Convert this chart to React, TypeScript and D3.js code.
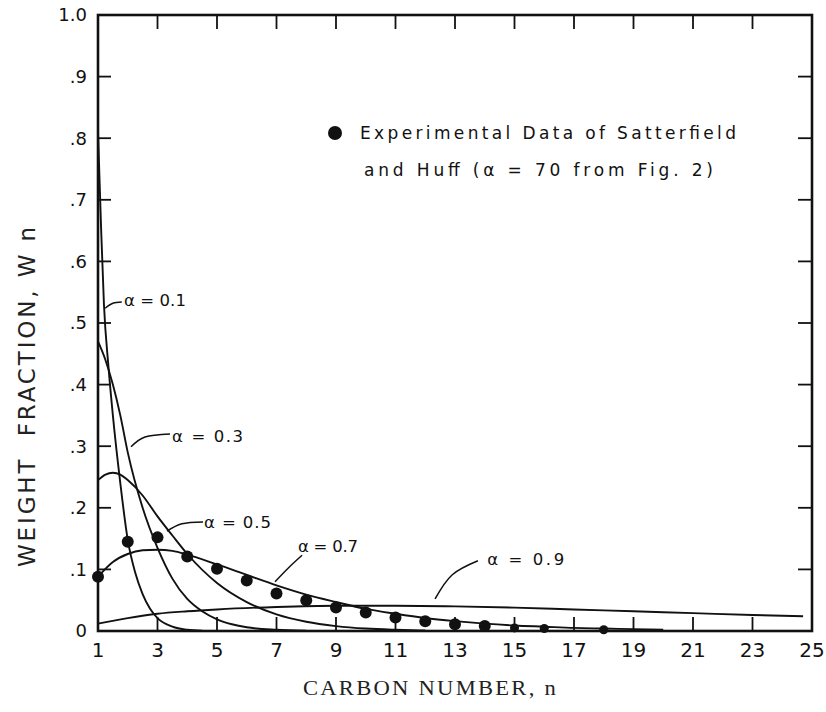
import React from 'react';
import * as d3 from 'd3';

// carbon number axis
const nTicks = [1, 3, 5, 7, 9, 11, 13, 15, 17, 19, 21, 23, 25];
const wTicks = [0, 0.1, 0.2, 0.3, 0.4, 0.5, 0.6, 0.7, 0.8, 0.9, 1.0];
const wTickLabels = ['0', '.1', '.2', '.3', '.4', '.5', '.6', '.7', '.8', '.9', '1.0'];

// curves: [n, weight fraction]
const alpha01 = [[1, 0.81], [1.1, 0.66], [1.2, 0.53], [1.35, 0.43], [1.5, 0.35], [1.75, 0.24], [2, 0.148], [2.25, 0.095], [2.5, 0.06], [2.75, 0.036], [3, 0.021], [3.5, 0.007], [4, 0.002], [4.5, 0.0005]];
const alpha03 = [[1, 0.47], [1.25, 0.44], [1.5, 0.4], [1.75, 0.35], [2, 0.29], [2.5, 0.2], [3, 0.135], [3.5, 0.085], [4, 0.052], [4.5, 0.032], [5, 0.019], [5.5, 0.011], [6, 0.006], [7, 0.002], [8, 0.0005]];
const alpha05 = [[1, 0.245], [1.25, 0.254], [1.5, 0.257], [1.75, 0.254], [2, 0.245], [2.5, 0.22], [3, 0.186], [3.5, 0.155], [4, 0.125], [5, 0.078], [6, 0.047], [7, 0.027], [8, 0.015], [9, 0.008], [10, 0.004], [11, 0.002], [12, 0.0008]];
const alpha07 = [[1, 0.088], [1.5, 0.112], [2, 0.125], [2.5, 0.131], [3, 0.132], [3.5, 0.13], [4, 0.124], [5, 0.108], [6, 0.091], [7, 0.074], [8, 0.059], [9, 0.047], [10, 0.036], [11, 0.028], [12, 0.021], [13, 0.016], [14, 0.012], [15, 0.009], [16, 0.007], [17, 0.005], [18, 0.004], [19, 0.003], [20, 0.002]];
const alpha09 = [[1, 0.012], [2, 0.021], [3, 0.028], [4, 0.032], [5, 0.035], [7, 0.039], [9, 0.041], [11, 0.041], [13, 0.04], [15, 0.038], [17, 0.035], [19, 0.032], [21, 0.029], [23, 0.026], [24.7, 0.024]];

// experimental data of Satterfield and Huff
const expN = [1, 2, 3, 4, 5, 6, 7, 8, 9, 10, 11, 12, 13, 14, 15, 16, 18];
const expW = [0.088, 0.145, 0.152, 0.121, 0.101, 0.082, 0.061, 0.05, 0.038, 0.03, 0.022, 0.016, 0.011, 0.008, 0.005, 0.004, 0.002];

// curve labels: text, leader line points and label anchor, in data units
const curveLabels = ['α = 0.1', 'α = 0.3', 'α = 0.5', 'α = 0.7', 'α = 0.9'];
const labelAnchors = [[1.87, 0.537], [3.49, 0.317], [4.56, 0.177], [7.72, 0.138], [14.08, 0.117]];
const labelWidths = [62, 71, 67, 60, 77];
const leaders = [
  [[1.24, 0.524], [1.5, 0.532], [1.8, 0.534]],
  [[2.11, 0.299], [2.58, 0.315], [3.42, 0.32]],
  [[3.32, 0.162], [3.82, 0.174], [4.53, 0.177]],
  [[6.95, 0.08], [7.39, 0.102], [7.86, 0.123]],
  [[12.33, 0.052], [12.9, 0.091], [13.77, 0.114]],
];

const W = 826;
const H = 712;

export default function App() {
  const x = d3.scaleLinear().domain([1, 25]).range([98, 812]);
  const y = d3.scaleLinear().domain([0, 1]).range([631, 15]);

  const curve = d3.line<number[]>().x(d => x(d[0])).y(d => y(d[1])).curve(d3.curveMonotoneX);
  const leader = d3.line<number[]>().x(d => x(d[0])).y(d => y(d[1])).curve(d3.curveNatural);

  const sans = "'DejaVu Sans', Verdana, sans-serif";
  const serif = "'Liberation Serif', 'Times New Roman', serif";

  return (
    <svg width={W} height={H} style={{ position: 'absolute', left: 0, top: 0, background: '#fff' }}>
      <rect x={0} y={0} width={W} height={H} fill="#fff" />

      {/* frame */}
      <rect x={x(1)} y={y(1)} width={x(25) - x(1)} height={y(0) - y(1)} fill="none" stroke="#111" strokeWidth={2.6} />

      {/* inward ticks, top and bottom */}
      {nTicks.slice(1, -1).map(n => (
        <g key={'nt' + n}>
          <line x1={x(n)} x2={x(n)} y1={y(1)} y2={y(1) + 14} stroke="#111" strokeWidth={1.8} />
          <line x1={x(n)} x2={x(n)} y1={y(0)} y2={y(0) - 14} stroke="#111" strokeWidth={1.8} />
        </g>
      ))}
      {/* inward ticks, left and right */}
      {wTicks.slice(1, -1).map(w => (
        <g key={'wt' + w}>
          <line x1={x(1)} x2={x(1) + 13} y1={y(w)} y2={y(w)} stroke="#111" strokeWidth={1.8} />
          <line x1={x(25)} x2={x(25) - 14} y1={y(w)} y2={y(w)} stroke="#111" strokeWidth={1.8} />
        </g>
      ))}

      {/* tick labels */}
      {wTicks.map((w, i) => (
        <text key={'wl' + w} x={87} y={y(w)} dy="0.36em" textAnchor="end" fontFamily={sans} fontSize={18} fill="#111">
          {wTickLabels[i]}
        </text>
      ))}
      {nTicks.map(n => (
        <text key={'nl' + n} x={x(n)} y={657} textAnchor="middle" fontFamily={sans} fontSize={20} fill="#111">
          {n}
        </text>
      ))}

      {/* axis titles */}
      <text x={303} y={695} textLength={255} lengthAdjust="spacingAndGlyphs" fontFamily={serif} fontSize={20} fill="#222"
        style={{ letterSpacing: '2px' }}>
        CARBON NUMBER, n
      </text>
      <text transform="translate(35,397) rotate(-90)" textAnchor="middle" textLength={340} lengthAdjust="spacing"
        fontFamily={sans} fontSize={23} fill="#222" style={{ whiteSpace: 'pre' }}>
        WEIGHT  FRACTION, W n
      </text>

      {/* distribution curves */}
      {[alpha01, alpha03, alpha05, alpha07, alpha09].map((c, i) => (
        <path key={'c' + i} d={curve(c) || ''} fill="none" stroke="#111" strokeWidth={1.9} />
      ))}

      {/* experimental points */}
      {expN.map((n, i) => (
        <circle key={'p' + n} cx={x(n)} cy={y(expW[i])} r={i > 13 ? 4.5 : 6} fill="#111" />
      ))}

      {/* curve labels with leader lines */}
      {curveLabels.map((t, i) => (
        <g key={'lab' + i}>
          <path d={leader(leaders[i]) || ''} fill="none" stroke="#111" strokeWidth={1.5} />
          <text x={x(labelAnchors[i][0])} y={y(labelAnchors[i][1])} dy="0.36em" textLength={labelWidths[i]}
            lengthAdjust="spacing" fontFamily={sans} fontSize={16.5} fill="#111">
            {t}
          </text>
        </g>
      ))}

      {/* legend */}
      <circle cx={335} cy={133} r={7} fill="#111" />
      <text x={360} y={133} dy="0.36em" textLength={376} lengthAdjust="spacing" fontFamily={sans} fontSize={17} fill="#111">
        Experimental Data of Satterfield
      </text>
      <text x={364} y={170} dy="0.36em" textLength={349} lengthAdjust="spacing" fontFamily={sans} fontSize={17} fill="#111">
        and Huff (α = 70 from Fig. 2)
      </text>
    </svg>
  );
}
